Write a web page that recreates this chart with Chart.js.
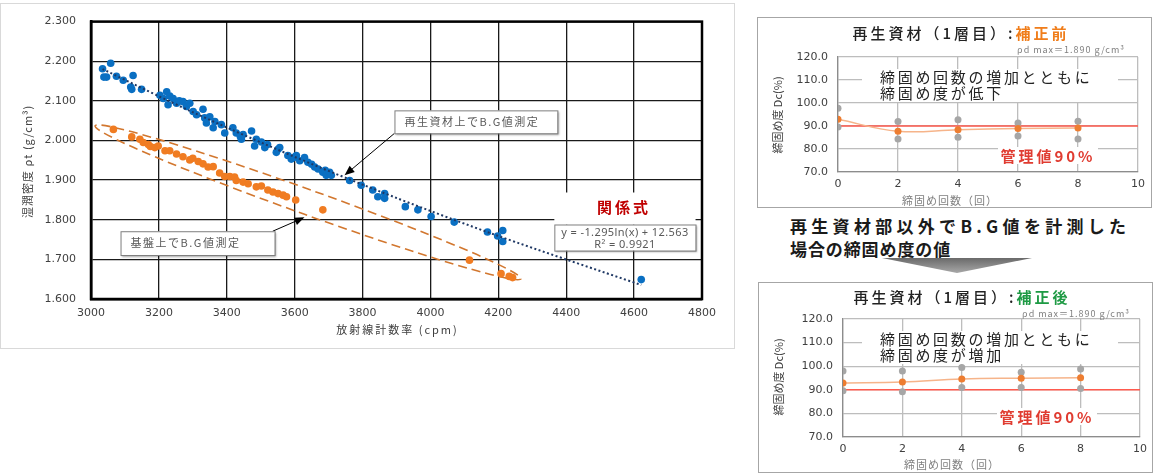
<!DOCTYPE html>
<html lang="ja">
<head>
<meta charset="utf-8">
<title>放射線計数率と湿潤密度</title>
<script src="https://cdn.jsdelivr.net/npm/chart.js@4.4.1/dist/chart.umd.min.js"></script>
<style>
body { margin:0; width:1156px; height:475px; background:#fff; position:relative; overflow:hidden;
       font-family:"Noto Sans CJK JP", sans-serif; color:#222; }
.abs { position:absolute; white-space:nowrap; }
.ctr { transform:translate(-50%,-50%); }
.panel { border:1px solid #a6a6a6; box-sizing:border-box; }
.ttl { font-size:15px; letter-spacing:3px; font-weight:500; }
.rho { font-size:9px; color:#7f7f7f; letter-spacing:1px; }
.note { background:#fff; font-size:15px; letter-spacing:2.7px; line-height:16px; padding-left:18px; box-sizing:border-box; }
.ctl { background:#fff; color:#e03c31; font-size:15px; font-weight:bold; letter-spacing:3px; text-align:center; line-height:17px; }
.ytl { font-size:11px; color:#404040; transform:translate(-50%,-50%) rotate(-90deg); }
.xtl { font-size:11px; color:#7f7f7f; letter-spacing:1px; }
.mid { font-size:17px; font-weight:bold; color:#1a1a1a; }
canvas { z-index:1; }
.over { z-index:2; }
</style>
</head>
<body>

<div class="abs" style="left:0;top:3px;width:735px;height:346px;border:1px solid #d9d9d9;box-sizing:border-box"></div>
<canvas id="mainChart" class="abs" width="740" height="350" style="left:0;top:0"></canvas>

<!-- 補正前 -->
<div class="abs panel" style="left:757px;top:17px;width:395px;height:191px"></div>
<canvas id="beforeChart" class="abs" width="395" height="191" style="left:757px;top:17px"></canvas>
<div class="abs ctr ttl over" style="left:961px;top:32px">再生資材（1層目）:<span style="color:#f07d1a;font-weight:bold">補正前</span></div>
<div class="abs rho over" style="right:31px;top:43px">ρd max＝1.890 g/cm³</div>
<div class="abs note over" style="left:862px;top:69px;width:256px;height:33px">締固め回数の増加とともに<br>締固め度が低下</div>
<div class="abs ctl over" style="left:998px;top:147px;width:100px;height:17px">管理値90%</div>
<div class="abs ytl over" style="left:777px;top:115px">締固め度 Dc(%)</div>
<div class="abs ctr xtl over" style="left:950px;top:200px">締固め回数（回）</div>

<!-- 中央の説明 -->
<div class="abs mid" style="left:790px;top:213px;letter-spacing:4.3px">再生資材部以外でB.G値を計測した</div>
<div class="abs mid" style="left:790px;top:236px;letter-spacing:0.9px">場合の締固め度の値</div>
<div class="abs" style="left:882px;top:258px;width:150px;height:15px;clip-path:polygon(0 0,100% 0,50% 100%);background:linear-gradient(#6a6a6a,#a8a8a8)"></div>

<!-- 補正後 -->
<div class="abs panel" style="left:758px;top:282px;width:395px;height:191px"></div>
<canvas id="afterChart" class="abs" width="395" height="191" style="left:758px;top:282px"></canvas>
<div class="abs ctr ttl over" style="left:962px;top:296px">再生資材（1層目）:<span style="color:#1e9a44;font-weight:bold">補正後</span></div>
<div class="abs rho over" style="right:26px;top:307px">ρd max＝1.890 g/cm³</div>
<div class="abs note over" style="left:862px;top:331px;width:256px;height:33px">締固め回数の増加とともに<br>締固め度が増加</div>
<div class="abs ctl over" style="left:997px;top:408px;width:100px;height:17px">管理値90%</div>
<div class="abs ytl over" style="left:778px;top:377px">締固め度 Dc(%)</div>
<div class="abs ctr xtl over" style="left:952px;top:464px">締固め回数（回）</div>

<script>
// 再生資材上でB.G値測定
const recycledCpm = [3034, 3058, 3038, 3046, 3075, 3095, 3124, 3117, 3120, 3149, 3203, 3223, 3232, 3213,
  3227, 3242, 3252, 3260, 3271, 3281, 3291, 3301, 3311, 3330, 3335, 3340, 3350, 3365, 3360, 3384, 3394,
  3418, 3428, 3440, 3443, 3448, 3473, 3482, 3487, 3502, 3512, 3520, 3546, 3551, 3556, 3580, 3590, 3600,
  3605, 3615, 3629, 3639, 3650, 3659, 3669, 3683, 3690, 3693, 3703, 3708, 3762, 3796, 3830, 3845, 3865,
  3865, 3926, 3963, 4002, 4070, 4168, 4198, 4213, 4213, 4621];
const recycledDensity = [2.181, 2.195, 2.160, 2.160, 2.162, 2.152, 2.164, 2.135, 2.129, 2.129, 2.114, 2.123,
  2.112, 2.106, 2.090, 2.106, 2.094, 2.100, 2.098, 2.086, 2.094, 2.073, 2.065, 2.079, 2.057, 2.044, 2.060,
  2.048, 2.032, 2.040, 2.019, 2.032, 2.019, 2.010, 2.003, 2.015, 2.024, 1.986, 2.003, 1.996, 1.982, 1.990,
  1.970, 1.978, 1.982, 1.962, 1.953, 1.958, 1.962, 1.949, 1.957, 1.945, 1.940, 1.933, 1.928, 1.920, 1.925,
  1.912, 1.920, 1.912, 1.899, 1.887, 1.875, 1.858, 1.866, 1.854, 1.833, 1.825, 1.808, 1.794, 1.769, 1.759,
  1.773, 1.745, 1.649];

// 基盤上でB.G値測定
const baseCpm = [3066, 3120, 3144, 3154, 3169, 3175, 3188, 3198, 3218, 3232, 3252, 3271, 3291, 3300, 3316,
  3330, 3345, 3360, 3379, 3394, 3409, 3423, 3428, 3448, 3463, 3487, 3502, 3521, 3536, 3551, 3566, 3576,
  3603, 3683, 4115, 4208, 4232, 4242];
const baseDensity = [2.028, 2.009, 2.003, 1.995, 1.990, 1.985, 1.982, 1.986, 1.974, 1.974, 1.966, 1.959,
  1.951, 1.955, 1.947, 1.941, 1.933, 1.934, 1.918, 1.909, 1.909, 1.908, 1.899, 1.895, 1.891, 1.883, 1.885,
  1.875, 1.870, 1.866, 1.862, 1.858, 1.850, 1.825, 1.698, 1.664, 1.657, 1.654];

// 関係式 y = a ln(x) + b
const fitA = -1.295;
const fitB = 12.563;
const fitR2 = 0.9921;
const trendCpm = [3034, 3300, 3600, 3900, 4200, 4621];

const cpmTicks = [3000, 4800, 200];
const densityTicks = [1.6, 2.3, 0.1];

// 締固め度 Dc(%)
const passes = [0, 2, 4, 6, 8];
const beforeHigh = [97.7, 92.0, 92.7, 91.3, 92.1];
const beforeLow = [89.6, 84.3, 85.1, 85.7, 84.4];
const beforeMean = [92.9, 87.7, 88.4, 88.9, 89.1];
const afterHigh = [98.0, 98.0, 99.4, 97.4, 98.8];
const afterLow = [89.6, 89.2, 91.0, 91.0, 90.5];
const afterMean = [92.9, 93.3, 94.6, 94.9, 95.1];
const controlValue = 90;
const passRange = [0, 10];

// annotation placement (data units)
const ring = { from: [3012, 2.037], to: [4267, 1.651], half: 12.5 };
const calloutRecycled = { box: [3894, 2.076, 4374, 2.018], tip: [3747, 1.912], corner: 'bl', text: '再生資材上でB.G値測定' };
const calloutBase = { box: [3087, 1.771, 3541, 1.711], tip: [3629, 1.806], corner: 'tr', text: '基盤上でB.G値測定' };
const eqBox = [4365, 1.788, 4781, 1.722];
const eqTitleAt = [4566, 1.831];

const CJK = '"Noto Sans CJK JP", sans-serif';
const NUM = '"DejaVu Sans", sans-serif';

const pts = (xs, ys) => xs.map((x, i) => ({ x, y: ys[i] }));

function arrow(ctx, sx, sy, tx, ty) {
  const ang = Math.atan2(ty - sy, tx - sx);
  ctx.beginPath();
  ctx.moveTo(sx, sy);
  ctx.lineTo(tx - Math.cos(ang) * 6, ty - Math.sin(ang) * 6);
  ctx.stroke();
  ctx.beginPath();
  ctx.moveTo(tx, ty);
  ctx.lineTo(tx - 10 * Math.cos(ang) + 4 * Math.sin(ang), ty - 10 * Math.sin(ang) - 4 * Math.cos(ang));
  ctx.lineTo(tx - 10 * Math.cos(ang) - 4 * Math.sin(ang), ty - 10 * Math.sin(ang) + 4 * Math.cos(ang));
  ctx.closePath();
  ctx.fill();
}

function box(ctx, x1, y1, x2, y2) {
  ctx.save();
  ctx.shadowColor = 'rgba(0,0,0,0.35)';
  ctx.shadowOffsetX = 1.5;
  ctx.shadowOffsetY = 1.5;
  ctx.shadowBlur = 2;
  ctx.fillStyle = '#fff';
  ctx.fillRect(x1, y1, x2 - x1, y2 - y1);
  ctx.restore();
  ctx.strokeStyle = '#7f7f7f';
  ctx.lineWidth = 1;
  ctx.strokeRect(x1 + 0.5, y1 + 0.5, x2 - x1, y2 - y1);
}

function callout(ctx, x, y, c) {
  const x1 = x.getPixelForValue(c.box[0]), y1 = y.getPixelForValue(c.box[1]);
  const x2 = x.getPixelForValue(c.box[2]), y2 = y.getPixelForValue(c.box[3]);
  const sx = c.corner === 'bl' ? x1 : x2 - 2;
  const sy = c.corner === 'bl' ? y2 : y1;
  ctx.strokeStyle = '#000';
  ctx.fillStyle = '#000';
  ctx.lineWidth = 1;
  arrow(ctx, sx, sy, x.getPixelForValue(c.tip[0]), y.getPixelForValue(c.tip[1]));
  box(ctx, x1, y1, x2, y2);
  ctx.fillStyle = '#595959';
  ctx.font = '11px ' + CJK;
  ctx.letterSpacing = '1.5px';
  ctx.textAlign = 'left';
  ctx.textBaseline = 'middle';
  ctx.fillText(c.text, x1 + 10, (y1 + y2) / 2);
  ctx.letterSpacing = '0px';
}

const mainDecor = {
  id: 'mainDecor',
  beforeDatasetsDraw(chart) {
    const { ctx, scales: { x, y } } = chart;
    const ax = x.getPixelForValue(ring.from[0]), ay = y.getPixelForValue(ring.from[1]);
    const bx = x.getPixelForValue(ring.to[0]), by = y.getPixelForValue(ring.to[1]);
    ctx.save();
    ctx.setLineDash([9, 5]);
    ctx.strokeStyle = '#d2772f';
    ctx.lineWidth = 1.6;
    ctx.beginPath();
    ctx.ellipse((ax + bx) / 2, (ay + by) / 2, Math.hypot(bx - ax, by - ay) / 2, ring.half,
      Math.atan2(by - ay, bx - ax), 0, Math.PI * 2);
    ctx.stroke();
    ctx.restore();
  },
  afterDraw(chart) {
    const { ctx, chartArea: a, scales: { x, y } } = chart;
    ctx.save();
    // heavy frame round the plot
    ctx.strokeStyle = '#000';
    ctx.lineWidth = 2.5;
    ctx.strokeRect(a.left, a.top, a.right - a.left, a.bottom - a.top);

    callout(ctx, x, y, calloutRecycled);
    callout(ctx, x, y, calloutBase);

    // 関係式
    const ex1 = x.getPixelForValue(eqBox[0]), ey1 = y.getPixelForValue(eqBox[1]);
    const ex2 = x.getPixelForValue(eqBox[2]), ey2 = y.getPixelForValue(eqBox[3]);
    ctx.fillStyle = '#fff';
    ctx.fillRect(ex1, ey1 - 32, ex2 - ex1, 32);
    ctx.fillStyle = '#c00000';
    ctx.font = 'bold 15px ' + CJK;
    ctx.letterSpacing = '3px';
    ctx.textAlign = 'center';
    ctx.textBaseline = 'middle';
    ctx.fillText('関係式', x.getPixelForValue(eqTitleAt[0]) + 1.5, y.getPixelForValue(eqTitleAt[1]));
    ctx.letterSpacing = '0px';
    box(ctx, ex1, ey1, ex2, ey2);
    ctx.fillStyle = '#595959';
    ctx.font = '11px "Noto Sans", sans-serif';
    ctx.letterSpacing = '0.4px';
    const sign = fitB >= 0 ? '+' : '-';
    ctx.fillText(`y = ${fitA.toFixed(3)}ln(x) ${sign} ${Math.abs(fitB).toFixed(3)}`, (ex1 + ex2) / 2, ey1 + 8);
    ctx.fillText(`R² = ${fitR2.toFixed(4)}`, (ex1 + ex2) / 2, ey1 + 20);

    // axis titles
    ctx.fillStyle = '#404040';
    ctx.font = '11px ' + CJK;
    ctx.letterSpacing = '2px';
    ctx.fillText('放射線計数率 (cpm)', (a.left + a.right) / 2 + 1, a.bottom + 31);
    ctx.letterSpacing = '1px';
    ctx.translate(28, (a.top + a.bottom) / 2 + 1);
    ctx.rotate(-Math.PI / 2);
    ctx.fillText('湿潤密度 ρt (g/cm³)', 0, 0);
    ctx.restore();
  }
};

new Chart(document.getElementById('mainChart'), {
  type: 'scatter',
  data: {
    datasets: [
      {
        type: 'line', label: '近似曲線', order: 0,
        data: trendCpm.map(c => ({ x: c, y: fitA * Math.log(c) + fitB })),
        borderColor: '#1f3864', borderWidth: 2, borderDash: [2, 2.5], pointRadius: 0, tension: 0.3
      },
      { label: '再生資材上', order: 1, data: pts(recycledCpm, recycledDensity),
        backgroundColor: '#0a6fc2', borderWidth: 0, pointRadius: 3.8 },
      { label: '基盤上', order: 2, data: pts(baseCpm, baseDensity),
        backgroundColor: '#f07c22', borderWidth: 0, pointRadius: 3.8 }
    ]
  },
  options: {
    responsive: false, animation: false, devicePixelRatio: 1,
    layout: { padding: { top: 17, right: 38, left: 0, bottom: 0 } },
    plugins: { legend: { display: false }, tooltip: { enabled: false } },
    scales: {
      x: {
        type: 'linear', min: cpmTicks[0], max: cpmTicks[1],
        ticks: { stepSize: cpmTicks[2], color: '#404040', font: { family: NUM, size: 11 }, padding: 8,
                 callback: v => String(Math.round(v)) },
        grid: { color: '#1a1a1a', lineWidth: 1.3, drawTicks: false },
        border: { color: '#000', width: 2.5 },
        afterFit: s => { s.height = 51; }
      },
      y: {
        min: densityTicks[0], max: densityTicks[1],
        ticks: { stepSize: densityTicks[2], color: '#404040', font: { family: NUM, size: 11 }, padding: 15,
                 callback: v => Number(v).toFixed(3) },
        grid: { color: '#1a1a1a', lineWidth: 1.3, drawTicks: false },
        border: { color: '#000', width: 2.5 },
        afterFit: s => { s.width = 91; }
      }
    }
  },
  plugins: [mainDecor]
});

function dcChart(id, high, low, mean, yWidth, padTop, padRight) {
  const grey = passes.flatMap((p, i) => [{ x: p, y: high[i] }, { x: p, y: low[i] }]);
  return new Chart(document.getElementById(id), {
    type: 'scatter',
    data: {
      datasets: [
        { type: 'line', label: '管理値', order: 2, data: passRange.map(p => ({ x: p, y: controlValue })),
          borderColor: '#ff5a4e', borderWidth: 1.5, pointRadius: 0 },
        { label: '測定値', order: 1, data: grey, backgroundColor: '#a6a6a6', borderWidth: 0, pointRadius: 3.5 },
        { type: 'line', label: '平均', order: 0, data: pts(passes, mean),
          borderColor: '#f6b48a', borderWidth: 1.5, tension: 0.4,
          pointBackgroundColor: '#ed7d31', pointBorderWidth: 0, pointRadius: 3.5 }
      ]
    },
    options: {
      responsive: false, animation: false, devicePixelRatio: 1,
      layout: { padding: { top: padTop, right: padRight, left: 0, bottom: 0 } },
      plugins: { legend: { display: false }, tooltip: { enabled: false } },
      scales: {
        x: {
          type: 'linear', min: passRange[0], max: passRange[1],
          ticks: { stepSize: 2, color: '#404040', font: { family: NUM, size: 11 }, padding: 6 },
          grid: { color: '#bdbdbd', lineWidth: 1.3, drawTicks: false },
          border: { color: '#8c8c8c', width: 1.3 },
          afterFit: s => { s.height = 36; }
        },
        y: {
          min: 70, max: 120,
          ticks: { stepSize: 10, color: '#404040', font: { family: NUM, size: 11 }, padding: 10,
                   callback: v => Number(v).toFixed(1) },
          grid: { color: '#bdbdbd', lineWidth: 1.3, drawTicks: false },
          border: { color: '#8c8c8c', width: 1.3 },
          afterFit: s => { s.width = yWidth; }
        }
      }
    }
  });
}

dcChart('beforeChart', beforeHigh, beforeLow, beforeMean, 81, 40, 14);
dcChart('afterChart', afterHigh, afterLow, afterMean, 85, 37, 10);
</script>
</body>
</html>
